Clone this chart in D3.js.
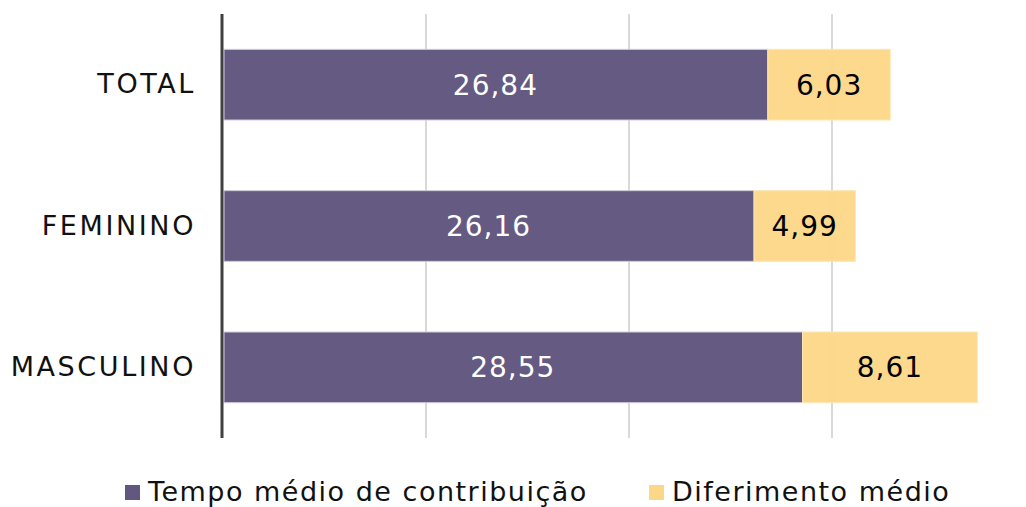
<!DOCTYPE html>
<html>
<head>
<meta charset="utf-8">
<script src="https://cdn.jsdelivr.net/npm/d3@7"></script>
<style>
  body { margin: 0; background: #fff; }
  text { font-family: "DejaVu Sans", sans-serif; }
</style>
</head>
<body>
<script>
  var categories = ["TOTAL", "FEMININO", "MASCULINO"];
  var tempoMedio = [26.84, 26.16, 28.55];
  var diferimento = [6.03, 4.99, 8.61];
  var seriesNames = ["Tempo médio de contribuição", "Diferimento médio"];
  var gridTicks = [10, 20, 30];

  var width = 1026, height = 507;
  var margin = { top: 14, right: -9, bottom: 69, left: 223 };
  var colors = ["#615780", "#fdd788"];

  var svg = d3.select("body").append("svg")
    .attr("width", width).attr("height", height);

  var x = d3.scaleLinear().domain([0, 40])
    .range([margin.left, width - margin.right]);

  var y = d3.scaleBand().domain(categories)
    .range([margin.top, height - margin.bottom])
    .paddingInner(0.5).paddingOuter(0.25);

  var fmt = function(v) { return d3.format(".2f")(v).replace(".", ","); };

  // gridlines
  svg.append("g").selectAll("line").data(gridTicks).enter().append("line")
    .attr("x1", function(d) { return x(d); })
    .attr("x2", function(d) { return x(d); })
    .attr("y1", margin.top)
    .attr("y2", height - margin.bottom)
    .attr("stroke", "#d9d9d9")
    .attr("stroke-width", 2);

  var rows = categories.map(function(c, i) {
    return { cat: c, a: tempoMedio[i], b: diferimento[i] };
  });

  var g = svg.append("g");

  // purple segment
  g.selectAll("rect.a").data(rows).enter().append("rect")
    .attr("class", "a")
    .attr("x", x(0) + 1)
    .attr("y", function(d) { return y(d.cat); })
    .attr("width", function(d) { return x(d.a) - x(0) - 1; })
    .attr("height", y.bandwidth())
    .attr("fill", colors[0])
    .attr("fill-opacity", 0.98)
    .attr("stroke", "#cfcbdc")
    .attr("stroke-width", 1);

  // yellow segment
  g.selectAll("rect.b").data(rows).enter().append("rect")
    .attr("class", "b")
    .attr("x", function(d) { return x(d.a); })
    .attr("y", function(d) { return y(d.cat); })
    .attr("width", function(d) { return x(d.a + d.b) - x(d.a); })
    .attr("height", y.bandwidth())
    .attr("fill", colors[1])
    .attr("fill-opacity", 0.96)
    .attr("stroke", "#fde6b4")
    .attr("stroke-width", 1);

  // value labels
  g.selectAll("text.va").data(rows).enter().append("text")
    .attr("x", function(d) { return (x(0) + x(d.a)) / 2; })
    .attr("y", function(d) { return y(d.cat) + y.bandwidth() / 2; })
    .attr("dy", "0.36em")
    .attr("text-anchor", "middle")
    .attr("fill", "#fff")
    .style("font-size", "28px")
    .style("letter-spacing", "1px")
    .text(function(d) { return fmt(d.a); });

  g.selectAll("text.vb").data(rows).enter().append("text")
    .attr("x", function(d) { return (x(d.a) + x(d.a + d.b)) / 2; })
    .attr("y", function(d) { return y(d.cat) + y.bandwidth() / 2; })
    .attr("dy", "0.36em")
    .attr("text-anchor", "middle")
    .attr("fill", "#000")
    .style("font-size", "28px")
    .style("letter-spacing", "1px")
    .text(function(d) { return fmt(d.b); });

  // category axis
  var yAxis = svg.append("g")
    .attr("transform", "translate(" + (margin.left - 1) + ",0)")
    .call(d3.axisLeft(y).tickSize(0).tickPadding(26));
  yAxis.select(".domain").attr("stroke", "#404040").attr("stroke-width", 3)
    .attr("d", "M0," + margin.top + "V" + (height - margin.bottom));
  yAxis.selectAll("text")
    .attr("fill", "#111")
    .style("font-size", "27px")
    .style("letter-spacing", "2.6px")
    .style("font-family", "DejaVu Sans, sans-serif");

  // legend
  var legendX = [125, 649];
  var legend = svg.append("g").selectAll("g").data(seriesNames).enter().append("g")
    .attr("transform", function(d, i) { return "translate(" + legendX[i] + ",491)"; });
  legend.append("rect")
    .attr("x", 0).attr("y", -6).attr("width", 15).attr("height", 15)
    .attr("fill", function(d, i) { return colors[i]; });
  legend.append("text")
    .attr("x", 23).attr("dy", "0.36em")
    .attr("fill", "#111")
    .style("font-size", "27px")
    .style("letter-spacing", "1.5px")
    .text(function(d) { return d; });
</script>
</body>
</html>
